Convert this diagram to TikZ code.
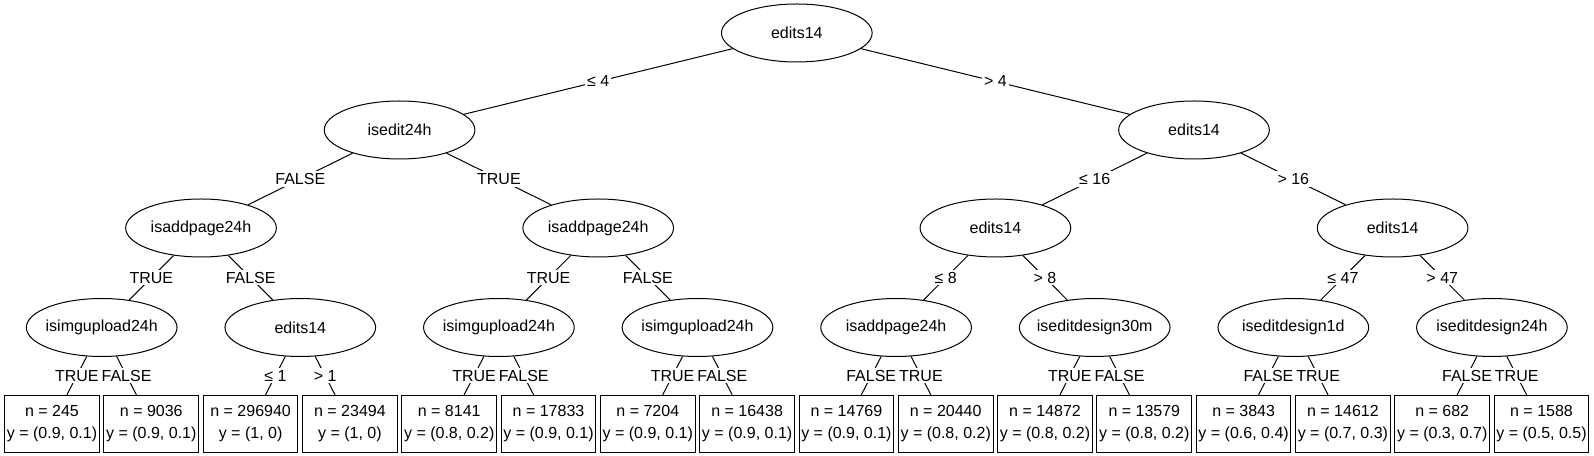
\documentclass[tikz,border=0pt]{standalone}
\usepackage{fontspec}
\setmainfont{Liberation Sans}
\usetikzlibrary{shapes.geometric}

\begin{document}
\begin{tikzpicture}[
        x=0.75pt, y=0.75pt,
        split/.style={draw, ellipse, line width=0.75pt, minimum width=113pt, minimum height=43.5pt, inner xsep=-14pt, inner ysep=0pt, fill=white, font=\fontsize{12}{14}\selectfont},
        leaf/.style={draw, rectangle, line width=0.75pt, minimum width=71pt, minimum height=42.5pt, inner sep=1pt, align=center, font=\fontsize{12}{16.3}\selectfont},
        edge/.style={line width=0.75pt},
        cut/.style={fill=white, inner sep=1.5pt, font=\fontsize{12}{14}\selectfont}
      ]
        \useasboundingbox (0,0) rectangle (1594,456);

        % Inner nodes
        \node [split] (root) at (796.8,423) {edits14};
        \node [split] (isedit) at (399.6,326) {isedit24h};
        \node [split] (editsR) at (1194,326) {edits14};
        \node [split] (addpageF) at (201,228) {isaddpage24h};
        \node [split] (addpageT) at (598.2,228) {isaddpage24h};
        \node [split] (editsLow) at (995.4,228) {edits14};
        \node [split] (editsHigh) at (1392.6,228) {edits14};
        \node [split] (imgA) at (101.7,128.5) {isimgupload24h};
        \node [split] (editsS) at (300.3,128.5) {edits14};
        \node [split] (imgB) at (498.9,128.5) {isimgupload24h};
        \node [split] (imgC) at (697.5,128.5) {isimgupload24h};
        \node [split] (addpageM) at (896.1,128.5) {isaddpage24h};
        \node [split] (design30m) at (1094.7,128.5) {iseditdesign30m};
        \node [split] (design1d) at (1293.3,128.5) {iseditdesign1d};
        \node [split] (design24h) at (1491.9,128.5) {iseditdesign24h};

        % Leaves
        \node [leaf] (leafA) at (52,32.3) {n = 245\\y = (0.9, 0.1)};
        \node [leaf] (leafB) at (151.3,32.3) {n = 9036\\y = (0.9, 0.1)};
        \node [leaf] (leafC) at (250.6,32.3) {n = 296940\\y = (1, 0)};
        \node [leaf] (leafD) at (349.9,32.3) {n = 23494\\y = (1, 0)};
        \node [leaf] (leafE) at (449.2,32.3) {n = 8141\\y = (0.8, 0.2)};
        \node [leaf] (leafF) at (548.5,32.3) {n = 17833\\y = (0.9, 0.1)};
        \node [leaf] (leafG) at (647.8,32.3) {n = 7204\\y = (0.9, 0.1)};
        \node [leaf] (leafH) at (747.1,32.3) {n = 16438\\y = (0.9, 0.1)};
        \node [leaf] (leafI) at (846.4,32.3) {n = 14769\\y = (0.9, 0.1)};
        \node [leaf] (leafJ) at (945.7,32.3) {n = 20440\\y = (0.8, 0.2)};
        \node [leaf] (leafK) at (1045,32.3) {n = 14872\\y = (0.8, 0.2)};
        \node [leaf] (leafL) at (1144.3,32.3) {n = 13579\\y = (0.8, 0.2)};
        \node [leaf] (leafM) at (1243.6,32.3) {n = 3843\\y = (0.6, 0.4)};
        \node [leaf] (leafN) at (1342.9,32.3) {n = 14612\\y = (0.7, 0.3)};
        \node [leaf] (leafO) at (1442.2,32.3) {n = 682\\y = (0.3, 0.7)};
        \node [leaf] (leafP) at (1541.5,32.3) {n = 1588\\y = (0.5, 0.5)};

        % Connections
        \draw [edge] (root) -- node[cut] {≤ 4} (isedit);
        \draw [edge] (root) -- node[cut] {> 4} (editsR);
        \draw [edge] (isedit) -- node[cut] {FALSE} (addpageF);
        \draw [edge] (isedit) -- node[cut] {TRUE} (addpageT);
        \draw [edge] (editsR) -- node[cut] {≤ 16} (editsLow);
        \draw [edge] (editsR) -- node[cut] {> 16} (editsHigh);
        \draw [edge] (addpageF) -- node[cut] {TRUE} (imgA);
        \draw [edge] (addpageF) -- node[cut] {FALSE} (editsS);
        \draw [edge] (addpageT) -- node[cut] {TRUE} (imgB);
        \draw [edge] (addpageT) -- node[cut] {FALSE} (imgC);
        \draw [edge] (editsLow) -- node[cut] {≤ 8} (addpageM);
        \draw [edge] (editsLow) -- node[cut] {> 8} (design30m);
        \draw [edge] (editsHigh) -- node[cut] {≤ 47} (design1d);
        \draw [edge] (editsHigh) -- node[cut] {> 47} (design24h);

        % Leaf connections
        \draw [edge] (imgA) -- node[cut] {TRUE} (leafA);
        \draw [edge] (imgA) -- node[cut] {FALSE} (leafB);
        \draw [edge] (editsS) -- node[cut] {≤ 1} (leafC);
        \draw [edge] (editsS) -- node[cut] {> 1} (leafD);
        \draw [edge] (imgB) -- node[cut] {TRUE} (leafE);
        \draw [edge] (imgB) -- node[cut] {FALSE} (leafF);
        \draw [edge] (imgC) -- node[cut] {TRUE} (leafG);
        \draw [edge] (imgC) -- node[cut] {FALSE} (leafH);
        \draw [edge] (addpageM) -- node[cut] {FALSE} (leafI);
        \draw [edge] (addpageM) -- node[cut] {TRUE} (leafJ);
        \draw [edge] (design30m) -- node[cut] {TRUE} (leafK);
        \draw [edge] (design30m) -- node[cut] {FALSE} (leafL);
        \draw [edge] (design1d) -- node[cut] {FALSE} (leafM);
        \draw [edge] (design1d) -- node[cut] {TRUE} (leafN);
        \draw [edge] (design24h) -- node[cut] {FALSE} (leafO);
        \draw [edge] (design24h) -- node[cut] {TRUE} (leafP);
      \end{tikzpicture}
\end{document}
